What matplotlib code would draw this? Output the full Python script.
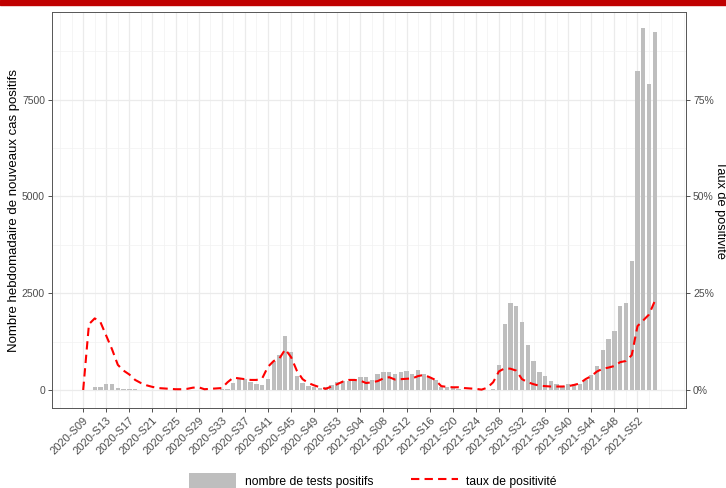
import matplotlib
matplotlib.use("Agg")
import matplotlib.pyplot as plt
import numpy as np
from matplotlib.patches import Patch, Rectangle
from matplotlib.lines import Line2D
from matplotlib.ticker import FixedLocator, PercentFormatter

plt.rcParams['font.family'] = ['Liberation Sans', 'DejaVu Sans']

# weeks 2020-S09 .. 2022-S03
weeks = ([f"2020-S{w:02d}" for w in range(9, 54)]
         + [f"2021-S{w:02d}" for w in range(1, 53)]
         + [f"2022-S{w:02d}" for w in range(1, 4)])

# weekly new positive cases
cas = [0, 5, 80, 80, 150, 150, 50, 30, 30, 20,
       10, 5, 5, 5, 5, 5, 5, 5, 5, 5,
       5, 5, 10, 10, 15, 20, 190, 295, 295, 215,
       150, 120, 280, 750, 900, 1400, 980, 370, 175, 105,
       85, 55, 70, 130, 200, 245, 245, 280, 335, 330,
       270, 410, 460, 460, 420, 470, 480, 420, 510, 410,
       330, 250, 90, 85, 85, 20, 10, 10, 10, 10,
       10, 20, 650, 1715, 2250, 2160, 1760, 1170, 740, 460,
       350, 240, 150, 115, 150, 160, 160, 260, 390, 620,
       1040, 1315, 1515, 2165, 2235, 3330, 8240, 9350, 7900, 9250]

# positivity rate (%)
taux = [0, 17, 18.5, 17.5, 14, 10.5, 6.5, 5, 4, 2.6,
        1.8, 1.2, 0.8, 0.5, 0.4, 0.3, 0.2, 0.2, 0.3, 0.6,
        0.7, 0.2, 0.3, 0.4, 0.5, 2.0, 3.2, 3.0, 2.8, 2.6,
        2.6, 3.0, 6.0, 7.5, 8.2, 10.5, 8.5, 5.0, 2.8, 1.8,
        1.2, 0.7, 0.3, 0.9, 1.5, 2.2, 2.6, 2.6, 2.4, 1.8,
        2.0, 2.3, 3.0, 3.3, 2.7, 2.8, 2.9, 3.0, 3.6, 3.9,
        3.3, 2.6, 1.0, 0.8, 0.7, 0.7, 0.5, 0.4, 0.3, 0.1,
        0.6, 2.0, 4.8, 5.6, 5.5, 5.0, 2.8, 2.0, 1.5, 1.1,
        1.0, 0.9, 0.9, 0.9, 1.0, 1.3, 1.7, 2.8, 3.6, 4.8,
        5.5, 5.8, 6.2, 7.2, 7.5, 9.0, 16.5, 18.0, 19.5, 23.0]

x = np.arange(len(weeks))
taux_frac = np.array(taux) / 100

W, H = 726, 488
fig = plt.figure(figsize=(W / 100, H / 100), dpi=100)
fig.patches.append(Rectangle((0, 1 - 5 / H), 1, 5 / H, transform=fig.transFigure,
                             color='#C00000', zorder=10))

ax = fig.add_axes([52 / W, (H - 408) / H, (686 - 52) / W, (408 - 12) / H])
ax.bar(x, cas, width=0.75, color='#BEBEBE', zorder=2)

ymin, ymax = -465, 9765
ax.set_ylim(ymin, ymax)
ax.set_xlim(-5.4, 104.4)

ax.set_xticks(x[::4])
ax.set_xticklabels(weeks[::4], rotation=45, ha='right', va='top',
                   rotation_mode='anchor', fontsize=8, color='#4D4D4D')
ax.xaxis.set_minor_locator(FixedLocator(np.arange(-4, 105, 2)))
ax.set_yticks([0, 2500, 5000, 7500])
ax.set_yticklabels(['0', '2500', '5000', '7500'], fontsize=7.5, color='#4D4D4D')
ax.yaxis.set_minor_locator(FixedLocator([1250, 3750, 6250, 8750]))

ax.grid(which='major', color='#EBEBEB', lw=0.9, zorder=0)
ax.grid(which='minor', color='#F2F2F2', lw=0.5, zorder=0)
ax.set_axisbelow(True)
ax.tick_params(which='major', length=3, width=0.6, color='#333333', pad=2)
ax.tick_params(which='minor', length=0)
for s in ax.spines.values():
    s.set_color('#555555')
    s.set_linewidth(0.7)

ax.set_ylabel('Nombre hebdomadaire de nouveaux cas positifs', fontsize=9.5,
              va='center', ha='center')
ax.yaxis.set_label_coords((14 - 52) / 634, 0.5)

ax2 = ax.twinx()
ax2.set_ylim(ymin / 10000, ymax / 10000)
ax2.plot(x, taux_frac, color='red', lw=1.5, ls=(0, (4, 2.5)), zorder=3)
ax2.set_yticks([0, 0.25, 0.5, 0.75])
ax2.yaxis.set_major_formatter(PercentFormatter(1, decimals=0))
ax2.tick_params(length=3, width=0.6, color='#333333', labelsize=7.5,
                labelcolor='#4D4D4D', pad=2)
for s in ax2.spines.values():
    s.set_visible(False)
ax2.set_ylabel('Taux de positivité', fontsize=9.2, rotation=270,
               va='center', ha='center')
ax2.yaxis.set_label_coords((720 - 52) / 634, 0.5)

handles = [Patch(facecolor='#BEBEBE', edgecolor='none'),
           Line2D([], [], color='red', lw=1.5, ls=(0, (4, 2.5)))]
fig.legend(handles, ['nombre de tests positifs', 'taux de positivité'],
           loc='center', bbox_to_anchor=(373 / W, 7 / H), ncol=2, frameon=False,
           fontsize=8.7, handlelength=3.9, handleheight=1.6, handletextpad=0.7,
           columnspacing=3.1, borderpad=0)

fig.savefig('out.png', dpi=100)
